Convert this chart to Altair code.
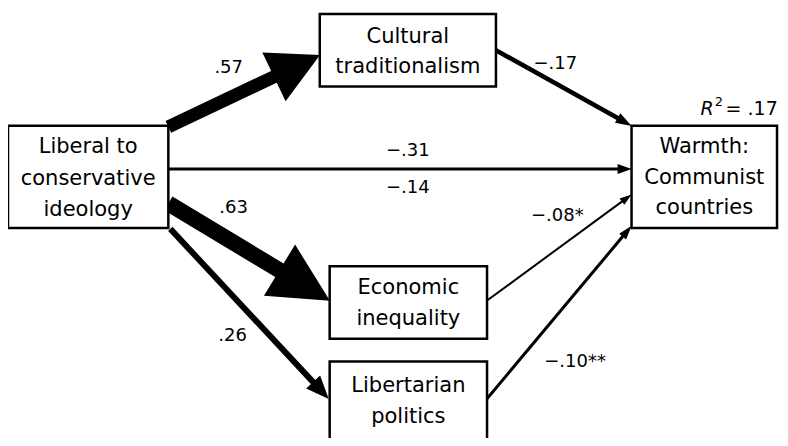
import math
import altair as alt
import pandas as pd

# ---- nodes (boxes) ----
node_lines = [["Liberal to", "conservative", "ideology"], ["Cultural", "traditionalism"],
              ["Warmth:", "Communist", "countries"], ["Economic", "inequality"],
              ["Libertarian", "politics"]]
box_x1 = [8, 323, 638, 333, 333]
box_x2 = [170, 501, 785, 492, 492]
box_y1 = [128, 14, 128, 271, 368]
box_y2 = [232, 88, 232, 345, 480]
text_y = [182, 53, 181, 309, 409]
line_gap = [32, 30, 31, 32, 32]

# ---- paths (arrows) ----
edge_x1 = [170, 170, 170, 172, 501, 492, 492]
edge_y1 = [129, 172, 207, 233, 51, 306, 406]
edge_x2 = [323, 638, 333, 332, 638, 638, 638]
edge_y2 = [56, 172, 306, 406, 128, 198, 230]
shaft_w = [13, 3, 16, 6, 4.5, 2, 3]
head_len = [51, 14, 59, 23, 16, 12, 14]
head_wid = [54, 10, 60, 19, 11, 8, 9]

# ---- coefficient labels ----
coef_text = [".57", "\u2212.31", "\u2212.14", ".63", ".26", "\u2212.17", "\u2212.08*", "\u2212.10**"]
coef_x = [231, 412, 412, 236, 235, 561, 563, 581]
coef_y = [69, 154, 191, 212, 342, 65, 220, 369]

FONT = "DejaVu Sans"

xs = alt.Scale(domain=[8, 788], nice=False, zero=False)
ys = alt.Scale(domain=[8, 446], reverse=True, nice=False, zero=False)

nodes = pd.DataFrame({"x1": box_x1, "x2": box_x2, "y1": box_y1, "y2": box_y2})

line_rows = []
for lines, a, b, cy, g in zip(node_lines, box_x1, box_x2, text_y, line_gap):
    n = len(lines)
    for j, t in enumerate(lines):
        line_rows.append({"t": t, "x": (a + b) / 2, "y": cy + (j - (n - 1) / 2) * g})
node_labels = pd.DataFrame(line_rows)

rows = []
for x1, y1, x2, y2, w, L, W in zip(edge_x1, edge_y1, edge_x2, edge_y2, shaft_w, head_len, head_wid):
    dx, dy = x2 - x1, y2 - y1
    d = math.hypot(dx, dy)
    ux, uy = dx / d, dy / d
    k = (W / L)
    rows.append({
        "sx": x1, "sy": y1,
        "ex": x2 - ux * (L - 2), "ey": y2 - uy * (L - 2),
        "w": w,
        "hx": x2 - ux * L / 2, "hy": y2 - uy * L / 2,
        "size": L * L,
        "angle": math.degrees(math.atan2(dy, dx)) % 360,
        "path": f"M1,0L-1,{-k:.4f}L-1,{k:.4f}Z",
    })
edges = pd.DataFrame(rows)

coefs = pd.DataFrame({"t": coef_text, "x": coef_x, "y": coef_y})

r2 = pd.DataFrame({"t": ["R", "2", "= .17"], "x": [721, 722, 733], "y": [111, 104, 111],
                   "style": ["italic", "normal", "normal"], "fs": [19, 13, 19],
                   "align": ["right", "left", "left"]})

shafts = alt.Chart(edges).mark_rule(color="black", strokeCap="butt").encode(
    x=alt.X("sx:Q", scale=xs, axis=None), y=alt.Y("sy:Q", scale=ys, axis=None),
    x2="ex:Q", y2="ey:Q",
    strokeWidth=alt.StrokeWidth("w:Q", scale=None),
)

heads = alt.Chart(edges).mark_point(filled=True, color="black", opacity=1, strokeWidth=0).encode(
    x=alt.X("hx:Q", scale=xs, axis=None), y=alt.Y("hy:Q", scale=ys, axis=None),
    shape=alt.Shape("path:N", scale=None),
    size=alt.Size("size:Q", scale=None),
    angle=alt.Angle("angle:Q", scale=None),
)

boxes = alt.Chart(nodes).mark_rect(fill="white", stroke="black", strokeWidth=2.5, clip=True).encode(
    x=alt.X("x1:Q", scale=xs, axis=None), x2="x2:Q",
    y=alt.Y("y1:Q", scale=ys, axis=None), y2="y2:Q",
)

box_text = alt.Chart(node_labels).mark_text(font=FONT, fontSize=21, baseline="middle",
                                            align="center", color="black").encode(
    x=alt.X("x:Q", scale=xs, axis=None), y=alt.Y("y:Q", scale=ys, axis=None), text="t:N",
)

coef_layer = alt.Chart(coefs).mark_text(font=FONT, fontSize=18, baseline="middle",
                                        align="center", color="black").encode(
    x=alt.X("x:Q", scale=xs, axis=None), y=alt.Y("y:Q", scale=ys, axis=None), text="t:N",
)

r2_layers = []
for i in range(len(r2)):
    row = r2.iloc[[i]]
    r2_layers.append(alt.Chart(row).mark_text(
        font=FONT, fontSize=int(row["fs"].iloc[0]), fontStyle=row["style"].iloc[0],
        align=row["align"].iloc[0], baseline="middle", color="black").encode(
        x=alt.X("x:Q", scale=xs, axis=None), y=alt.Y("y:Q", scale=ys, axis=None), text="t:N"))

chart = alt.layer(shafts, heads, boxes, box_text, coef_layer, *r2_layers).properties(
    width=772, height=430, padding=0,
    autosize=alt.AutoSizeParams(type="fit", contains="padding"),
).configure_view(strokeWidth=0)

chart.save("out.html", embed_options={"renderer": "svg", "actions": False})
